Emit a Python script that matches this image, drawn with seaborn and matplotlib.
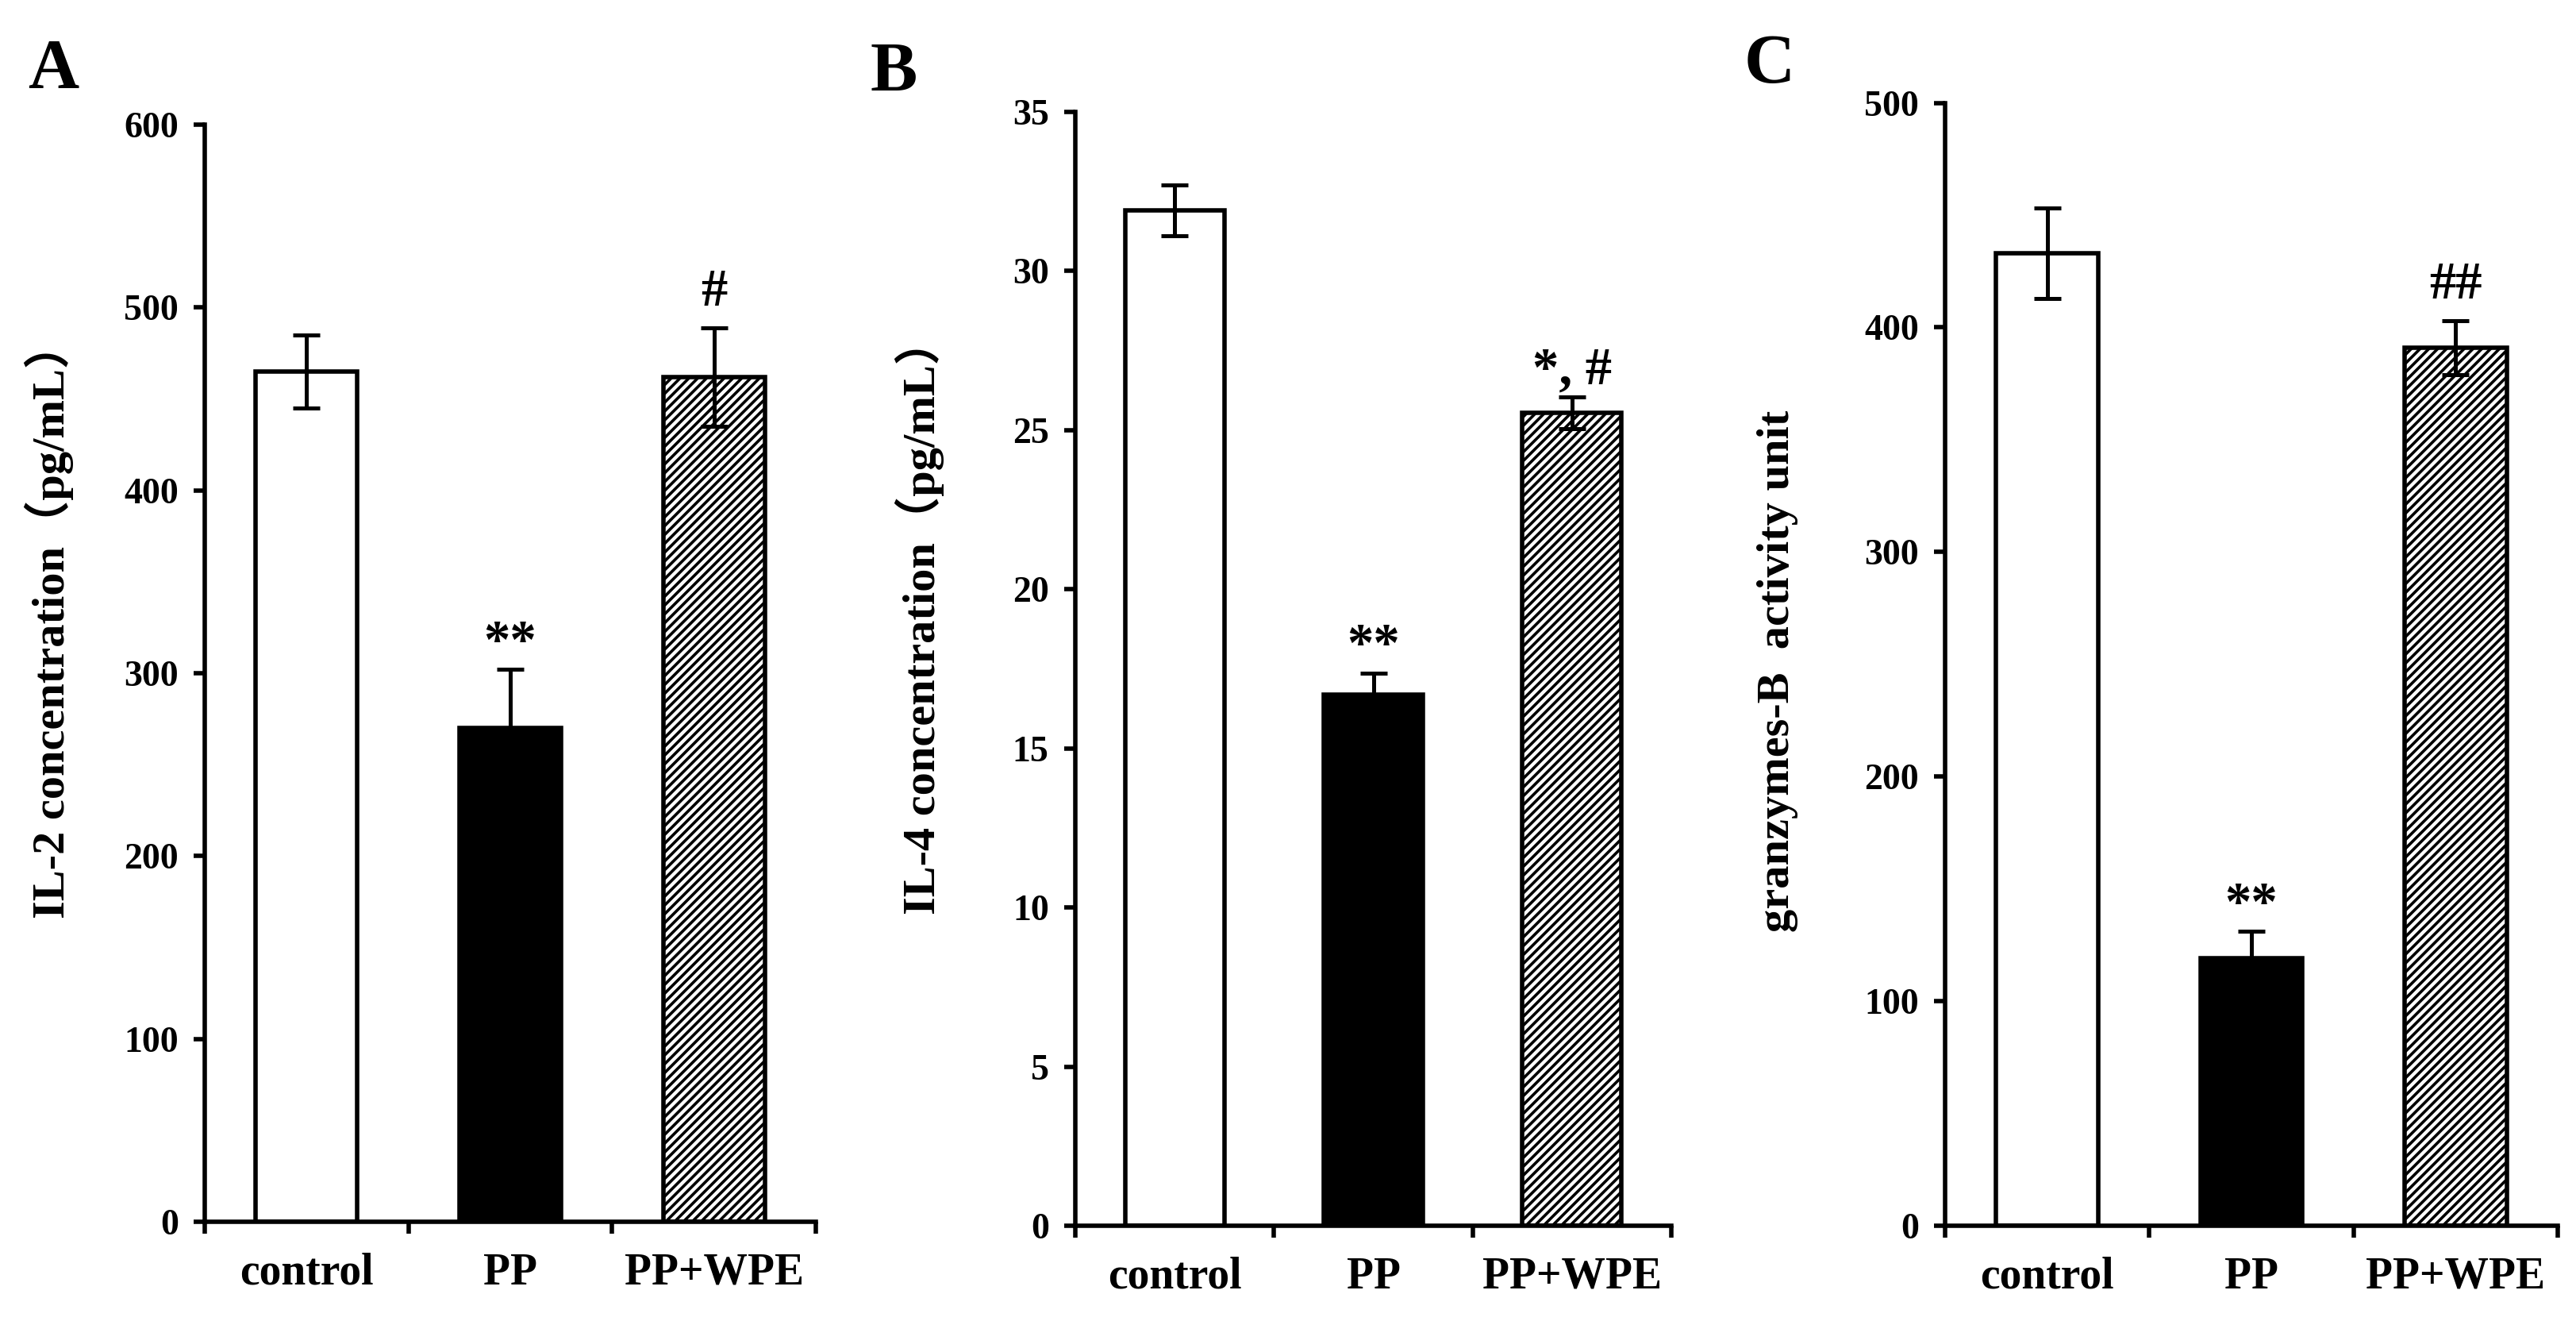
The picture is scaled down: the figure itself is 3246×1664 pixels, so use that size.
import numpy as np
import pandas as pd
import matplotlib
matplotlib.use('Agg')
import matplotlib.pyplot as plt
import seaborn as sns

# groups on the x axis
groups = ['control', 'PP', 'PP+WPE']

# A: IL-2
il2_mean = [465, 270, 462]
il2_err = [20, 32, 27]
il2_marks = ['', '**', '#']

# B: IL-4
il4_mean = [31.9, 16.7, 25.55]
il4_err = [0.8, 0.66, 0.5]
il4_marks = ['', '**', '*, #']

# C: granzyme B
gzb_mean = [433, 119, 391]
gzb_err = [20, 12, 12]
gzb_marks = ['', '**', '##']

ylabels = ['IL-2 concentration（pg/mL）', 'IL-4 concentration（pg/mL）', 'granzymes-B  activity unit']
letters = ['A', 'B', 'C']
ymax = [600, 35, 500]
ystep = [100, 5, 100]

sns.set_theme(style='ticks')
plt.rcParams['font.family'] = ['Liberation Serif', 'Noto Sans CJK SC']
plt.rcParams['font.weight'] = 'bold'
plt.rcParams['hatch.linewidth'] = 1.3
plt.rcParams['hatch.color'] = 'black'
for key in ['text.color', 'axes.labelcolor', 'xtick.color', 'ytick.color', 'axes.edgecolor']:
    plt.rcParams[key] = 'black'

W, H = 3246, 1664
fig = plt.figure(figsize=(W / 200, H / 200), dpi=200)

# axes boxes in pixels: left, top, right, bottom
boxes = [(258, 157, 1028, 1539), (1355, 141, 2106, 1544), (2451, 129.5, 3223, 1544)]
letter_pos = [(35, 48), (1097, 52), (2198, 42)]
label_pos = [(-0.2545, 0.548), (-0.261, 0.547), (-0.273, 0.494)]

fills = ['white', 'black', 'white']
hatches = ['', '', '//////']

data = [(il2_mean, il2_err, il2_marks), (il4_mean, il4_err, il4_marks), (gzb_mean, gzb_err, gzb_marks)]

for k, (mean, err, marks) in enumerate(data):
    l, t, r, b = boxes[k]
    ax = fig.add_axes([l / W, 1 - b / H, (r - l) / W, (b - t) / H])
    df = pd.DataFrame({'group': groups, 'value': mean})
    sns.barplot(data=df, x='group', y='value', ax=ax, width=0.5, errorbar=None,
                color='white', edgecolor='black', linewidth=2.0)
    for patch, fc, h in zip(ax.patches, fills, hatches):
        patch.set_facecolor(fc)
        patch.set_hatch(h)
    ax.errorbar(range(len(groups)), mean, yerr=err, fmt='none', ecolor='black',
                elinewidth=1.8, capsize=6, capthick=1.8, zorder=3)
    for i, m in enumerate(marks):
        if m:
            off = 6 if '*' in m else 10
            ax.annotate(m, xy=(i, mean[i] + err[i]), xytext=(0, off), textcoords='offset points',
                        ha='center', va='baseline', fontsize=24, fontweight='bold')

    ax.set_xlim(-0.5, 2.5)
    ax.set_ylim(0, ymax[k])
    ax.set_yticks(np.arange(0, ymax[k] + ystep[k] / 2, ystep[k]))
    ax.set_xticks([-0.5, 0.5, 1.5, 2.5])
    ax.set_xticklabels([])
    ax.set_xticks([0, 1, 2], minor=True)
    ax.set_xticklabels(groups, minor=True)
    ax.tick_params(axis='x', which='major', direction='out', length=5.5, width=2)
    ax.tick_params(axis='x', which='minor', length=0, labelsize=20, pad=14)
    ax.tick_params(axis='y', direction='out', length=5, width=2, labelsize=16.5, pad=7)
    for s in ['top', 'right']:
        ax.spines[s].set_visible(False)
    for s in ['left', 'bottom']:
        ax.spines[s].set_linewidth(2.0)
        ax.spines[s].set_color('black')
    ax.set_xlabel('')
    ax.set_ylabel(ylabels[k], fontsize=21, fontweight='bold')
    ax.yaxis.label.set(ha='center', va='center', rotation_mode='default')
    ax.yaxis.set_label_coords(*label_pos[k])

    lx, ly = letter_pos[k]
    fig.text(lx / W, 1 - ly / H, letters[k], ha='left', va='top', fontsize=32, fontweight='bold')

fig.savefig('out.png', dpi=200, facecolor='white')
